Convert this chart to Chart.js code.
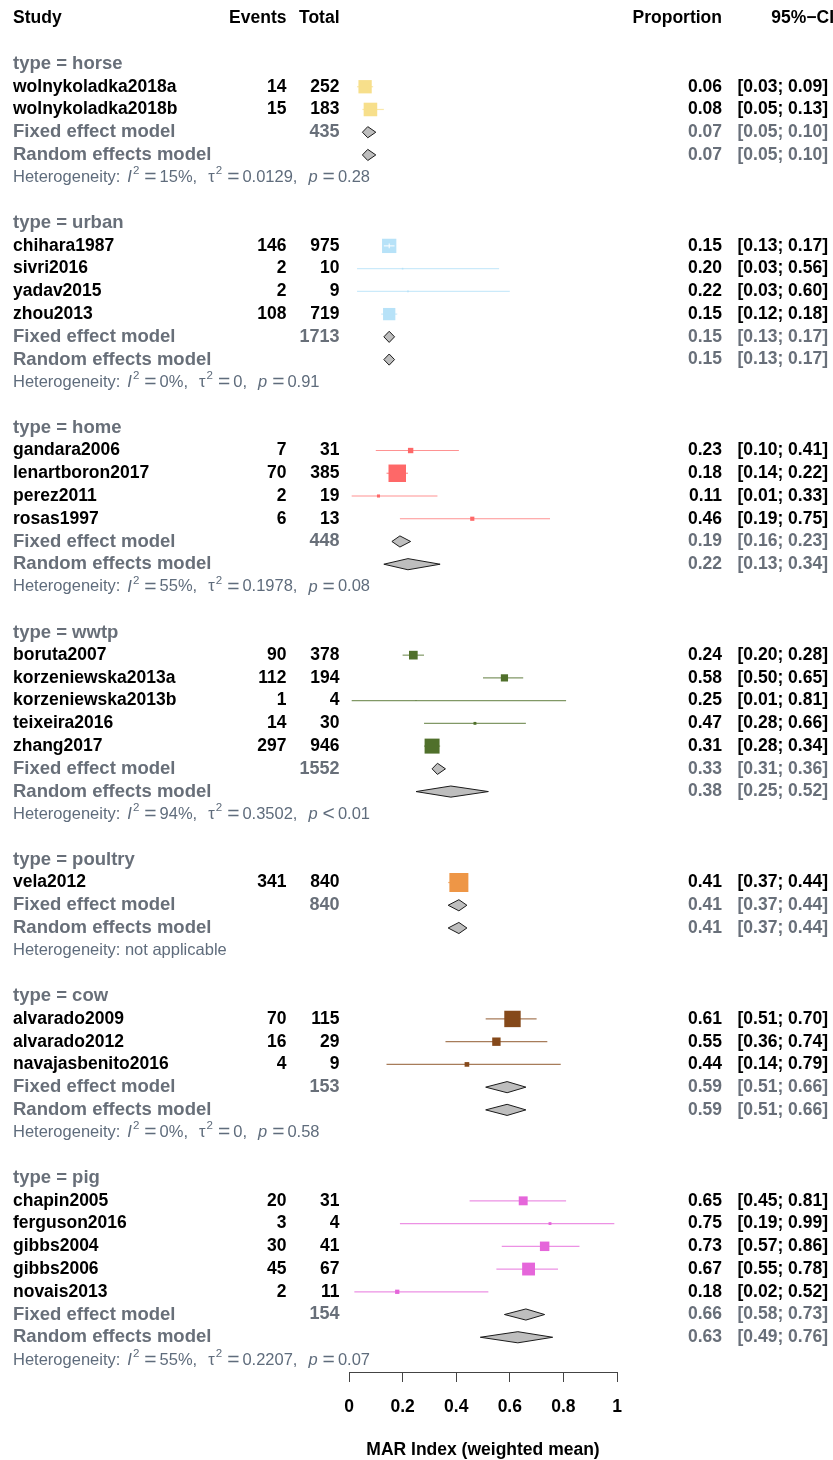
<!DOCTYPE html>
<html>
<head>
<meta charset="utf-8">
<title>MAR Index forest plot</title>
<script src="https://cdn.jsdelivr.net/npm/chart.js@4.4.1/dist/chart.umd.min.js"></script>
<style>
  html, body { margin: 0; padding: 0; background: #ffffff; }
  canvas { display: block; }
</style>
</head>
<body>
<canvas id="forest" width="833" height="1460"></canvas>
<script>
// ---- data -------------------------------------------------------------
const groupNames = ['horse', 'urban', 'home', 'wwtp', 'poultry', 'cow', 'pig'];

const studyNames = [
  'wolnykoladka2018a', 'wolnykoladka2018b',
  'chihara1987', 'sivri2016', 'yadav2015', 'zhou2013',
  'gandara2006', 'lenartboron2017', 'perez2011', 'rosas1997',
  'boruta2007', 'korzeniewska2013a', 'korzeniewska2013b', 'teixeira2016', 'zhang2017',
  'vela2012',
  'alvarado2009', 'alvarado2012', 'navajasbenito2016',
  'chapin2005', 'ferguson2016', 'gibbs2004', 'gibbs2006', 'novais2013'
];
const studyGroup  = [0, 0, 1, 1, 1, 1, 2, 2, 2, 2, 3, 3, 3, 3, 3, 4, 5, 5, 5, 6, 6, 6, 6, 6];
const studyEvents = [14, 15, 146, 2, 2, 108, 7, 70, 2, 6, 90, 112, 1, 14, 297, 341, 70, 16, 4, 20, 3, 30, 45, 2];
const studyTotals = [252, 183, 975, 10, 9, 719, 31, 385, 19, 13, 378, 194, 4, 30, 946, 840, 115, 29, 9, 31, 4, 41, 67, 11];
const studyProp   = [0.06, 0.08, 0.15, 0.20, 0.22, 0.15, 0.23, 0.18, 0.11, 0.46, 0.24, 0.58, 0.25, 0.47, 0.31, 0.41, 0.61, 0.55, 0.44, 0.65, 0.75, 0.73, 0.67, 0.18];
const studyLower  = [0.03, 0.05, 0.13, 0.03, 0.03, 0.12, 0.10, 0.14, 0.01, 0.19, 0.20, 0.50, 0.01, 0.28, 0.28, 0.37, 0.51, 0.36, 0.14, 0.45, 0.19, 0.57, 0.55, 0.02];
const studyUpper  = [0.09, 0.13, 0.17, 0.56, 0.60, 0.18, 0.41, 0.22, 0.33, 0.75, 0.28, 0.65, 0.81, 0.66, 0.34, 0.44, 0.70, 0.74, 0.79, 0.81, 0.99, 0.86, 0.78, 0.52];
// fixed-effect weight of each study inside its subgroup (%)
const studyWeight = [49.0, 51.0, 56.7, 0.7, 0.7, 41.9, 8.0, 84.6, 2.6, 4.8, 20.9, 14.4, 0.2, 2.3, 62.2, 100, 74.5, 19.5, 6.0, 22.0, 2.3, 24.9, 45.7, 5.1];

const fixedTotal  = [435, 1713, 448, 1552, 840, 153, 154];
const fixedEst    = [0.07, 0.15, 0.19, 0.33, 0.41, 0.59, 0.66];
const fixedLower  = [0.05, 0.13, 0.16, 0.31, 0.37, 0.51, 0.58];
const fixedUpper  = [0.10, 0.17, 0.23, 0.36, 0.44, 0.66, 0.73];
const randomEst   = [0.07, 0.15, 0.22, 0.38, 0.41, 0.59, 0.63];
const randomLower = [0.05, 0.13, 0.13, 0.25, 0.37, 0.51, 0.49];
const randomUpper = [0.10, 0.17, 0.34, 0.52, 0.44, 0.66, 0.76];

const hetI2   = ['15%', '0%', '55%', '94%', null, '0%', '55%'];
const hetTau2 = ['0.0129', '0', '0.1978', '0.3502', null, '0', '0.2207'];
const hetPRel = ['=', '=', '=', '<', null, '=', '='];
const hetP    = ['0.28', '0.91', '0.08', '0.01', null, '0.58', '0.07'];

const xTicks = [0, 0.2, 0.4, 0.6, 0.8, 1];
const xTitle = 'MAR Index (weighted mean)';

// ---- style --------------------------------------------------------------
const FONT = '"Liberation Sans", Arial, Helvetica, sans-serif';
const groupColors = ['#F7DF8B', '#B7E2F8', '#FE6868', '#50702B', '#EE9646', '#85491A', '#E566DA'];
const GREY_TEXT = '#686F79';
const HET_TEXT = '#5F6C7C';
const BOX_MAX = 19;         // side of a box holding 100% of a subgroup's weight (px)
const DIAMOND_HALF = 0.245; // half height of summary diamonds (rows)

const fmt2 = v => v.toFixed(2);
const ciText = (lo, hi) => '[' + fmt2(lo) + '; ' + fmt2(hi) + ']';
const boxSide = si => BOX_MAX * Math.sqrt(studyWeight[si] / 100);

function withAlpha(hex, a) {
  const n = parseInt(hex.slice(1), 16);
  return 'rgba(' + ((n >> 16) & 255) + ',' + ((n >> 8) & 255) + ',' + (n & 255) + ',' + a + ')';
}

// ---- row layout ---------------------------------------------------------
const rows = [];
const studyRow = [];
let r = 0;
groupNames.forEach((g, gi) => {
  rows.push({ kind: 'header', gi, row: r++ });
  studyGroup.forEach((sg, si) => {
    if (sg === gi) { studyRow[si] = r; rows.push({ kind: 'study', gi, si, row: r++ }); }
  });
  rows.push({ kind: 'fixed', gi, row: r++ });
  rows.push({ kind: 'random', gi, row: r++ });
  rows.push({ kind: 'het', gi, row: r++ });
  r++;
});
const HEADER_ROW = -2;

// ---- datasets -----------------------------------------------------------
const datasets = [];

// confidence-interval whiskers
studyNames.forEach((n, si) => {
  datasets.push({
    type: 'line',
    data: [{ x: studyLower[si], y: studyRow[si] }, { x: studyUpper[si], y: studyRow[si] }],
    borderColor: withAlpha(groupColors[studyGroup[si]], 0.72),
    borderWidth: 1.2,
    pointRadius: 0,
    tension: 0,
    fill: false,
    order: 2
  });
});

// study boxes, area proportional to weight
groupNames.forEach((g, gi) => {
  const idx = studyNames.map((n, si) => si).filter(si => studyGroup[si] === gi);
  const radii = idx.map(si => boxSide(si) / Math.SQRT2);
  datasets.push({
    type: 'scatter',
    data: idx.map(si => ({ x: studyProp[si], y: studyRow[si] })),
    pointStyle: 'rect',
    pointRadius: radii,
    pointHoverRadius: radii,
    backgroundColor: groupColors[gi],
    borderWidth: 0,
    order: 1
  });
});

// summary diamonds
function diamond(est, lo, hi, row) {
  return {
    type: 'line',
    data: [
      { x: lo, y: row }, { x: est, y: row - DIAMOND_HALF },
      { x: hi, y: row }, { x: est, y: row + DIAMOND_HALF }, { x: lo, y: row }
    ],
    borderColor: '#1a1a1a',
    borderWidth: 1,
    backgroundColor: '#BEBEBE',
    fill: 'shape',
    pointRadius: 0,
    tension: 0,
    order: 0
  };
}
rows.forEach(it => {
  if (it.kind === 'fixed') datasets.push(diamond(fixedEst[it.gi], fixedLower[it.gi], fixedUpper[it.gi], it.row));
  if (it.kind === 'random') datasets.push(diamond(randomEst[it.gi], randomLower[it.gi], randomUpper[it.gi], it.row));
});

// whiskers that lie wholly inside their box are redrawn in white
const insideWhiskers = {
  id: 'insideWhiskers',
  afterDatasetsDraw(chart) {
    const ctx = chart.ctx, xs = chart.scales.x, ys = chart.scales.y;
    ctx.save();
    ctx.strokeStyle = '#ffffff';
    ctx.lineWidth = 1;
    studyNames.forEach((n, si) => {
      const half = boxSide(si) / 2;
      const cx = xs.getPixelForValue(studyProp[si]);
      const x0 = xs.getPixelForValue(studyLower[si]);
      const x1 = xs.getPixelForValue(studyUpper[si]);
      if (x0 >= cx - half && x1 <= cx + half) {
        const y = ys.getPixelForValue(studyRow[si]);
        ctx.beginPath();
        ctx.moveTo(x0, y); ctx.lineTo(x1, y);
        ctx.moveTo(cx, y - half / 3); ctx.lineTo(cx, y + half / 3);
        ctx.stroke();
      }
    });
    ctx.restore();
  }
};

// ---- table text ---------------------------------------------------------
const COL = { name: 13, events: 286.5, total: 339.5, prop: 722, ci: 828 };

function put(ctx, text, x, y, align, size, weight, color) {
  ctx.font = (weight ? weight + ' ' : '') + size + 'px ' + FONT;
  ctx.fillStyle = color;
  ctx.textAlign = align;
  ctx.textBaseline = 'middle';
  ctx.fillText(text, x, y);
}

// segments: t = text, italic, sup, size (override), pad (space before, px)
function putRich(ctx, segs, x, y, size, color) {
  let cx = x;
  ctx.fillStyle = color;
  ctx.textAlign = 'left';
  ctx.textBaseline = 'middle';
  segs.forEach(s => {
    const sz = s.size || (s.sup ? size * 0.7 : size);
    cx += s.pad || 0;
    ctx.font = (s.italic ? 'italic ' : '') + sz + 'px ' + FONT;
    ctx.fillText(s.t, cx, s.sup ? y - size * 0.4 : y);
    cx += ctx.measureText(s.t).width;
  });
}

const HET = 16.5;
const EQ = 21;
function hetSegments(gi) {
  if (hetI2[gi] === null) return [{ t: 'Heterogeneity: not applicable' }];
  return [
    { t: 'Heterogeneity:' }, { t: 'I', italic: true, pad: 7 }, { t: '2', sup: true, pad: 1 },
    { t: '=', size: EQ, pad: 5 }, { t: hetI2[gi], pad: 3 }, { t: ',' },
    { t: '\u03C4', pad: 11 }, { t: '2', sup: true, pad: 1 },
    { t: '=', size: EQ, pad: 5 }, { t: hetTau2[gi], pad: 3 }, { t: ',' },
    { t: 'p', italic: true, pad: 11 },
    { t: hetPRel[gi], size: EQ, pad: 5 }, { t: hetP[gi], pad: 3 }
  ];
}

const tablePlugin = {
  id: 'forestTable',
  afterDraw(chart) {
    const ctx = chart.ctx;
    const ys = chart.scales.y;
    const py = row => ys.getPixelForValue(row);
    ctx.save();

    const hy = py(HEADER_ROW);
    put(ctx, 'Study', COL.name, hy, 'left', 17.5, 'bold', '#000');
    put(ctx, 'Events', COL.events, hy, 'right', 17.5, 'bold', '#000');
    put(ctx, 'Total', COL.total, hy, 'right', 17.5, 'bold', '#000');
    put(ctx, 'Proportion', COL.prop, hy, 'right', 17.5, 'bold', '#000');
    put(ctx, '95%\u2212CI', 834, hy, 'right', 17.5, 'bold', '#000');

    rows.forEach(it => {
      const y = py(it.row);
      const gi = it.gi;
      if (it.kind === 'header') {
        put(ctx, 'type = ' + groupNames[gi], COL.name, y, 'left', 18.5, 'bold', GREY_TEXT);
      } else if (it.kind === 'study') {
        const si = it.si;
        put(ctx, studyNames[si], COL.name, y, 'left', 17.5, 'bold', '#000');
        put(ctx, String(studyEvents[si]), COL.events, y, 'right', 17.5, 'bold', '#000');
        put(ctx, String(studyTotals[si]), COL.total, y, 'right', 17.5, 'bold', '#000');
        put(ctx, fmt2(studyProp[si]), COL.prop, y, 'right', 17.5, 'bold', '#000');
        put(ctx, ciText(studyLower[si], studyUpper[si]), COL.ci, y, 'right', 17.5, 'bold', '#000');
      } else if (it.kind === 'fixed') {
        put(ctx, 'Fixed effect model', COL.name, y, 'left', 18.5, 'bold', GREY_TEXT);
        put(ctx, String(fixedTotal[gi]), COL.total, y, 'right', 18, 'bold', GREY_TEXT);
        put(ctx, fmt2(fixedEst[gi]), COL.prop, y, 'right', 17.5, 'bold', GREY_TEXT);
        put(ctx, ciText(fixedLower[gi], fixedUpper[gi]), COL.ci, y, 'right', 17.5, 'bold', GREY_TEXT);
      } else if (it.kind === 'random') {
        put(ctx, 'Random effects model', COL.name, y, 'left', 18.5, 'bold', GREY_TEXT);
        put(ctx, fmt2(randomEst[gi]), COL.prop, y, 'right', 17.5, 'bold', GREY_TEXT);
        put(ctx, ciText(randomLower[gi], randomUpper[gi]), COL.ci, y, 'right', 17.5, 'bold', GREY_TEXT);
      } else if (it.kind === 'het') {
        putRich(ctx, hetSegments(gi), COL.name, y, HET, HET_TEXT);
      }
    });
    ctx.restore();
  }
};

// ---- chart --------------------------------------------------------------
new Chart(document.getElementById('forest'), {
  type: 'scatter',
  data: { datasets },
  options: {
    responsive: false,
    animation: false,
    events: [],
    layout: { padding: { left: 349, right: 216, top: 14, bottom: 0 } },
    plugins: { legend: { display: false }, tooltip: { enabled: false } },
    scales: {
      x: {
        type: 'linear',
        position: 'bottom',
        min: 0,
        max: 1,
        afterBuildTicks: scale => { scale.ticks = xTicks.map(v => ({ value: v })); },
        afterFit: scale => { scale.height = 88; },
        ticks: {
          callback: v => String(v),
          font: { family: FONT, size: 17.5, weight: 'bold' },
          color: '#000',
          padding: 15,
          maxRotation: 0
        },
        grid: { display: true, drawOnChartArea: false, drawTicks: true, tickLength: 10, color: '#444', lineWidth: 1 },
        border: { display: true, color: '#444', width: 1 },
        title: {
          display: true,
          text: xTitle,
          font: { family: FONT, size: 17.5, weight: 'bold' },
          color: '#000',
          padding: { top: 0, bottom: -1 }
        }
      },
      y: {
        type: 'linear',
        display: false,
        reverse: true,
        min: -2.199,
        max: 57.528
      }
    }
  },
  plugins: [insideWhiskers, tablePlugin]
});
</script>
</body>
</html>
